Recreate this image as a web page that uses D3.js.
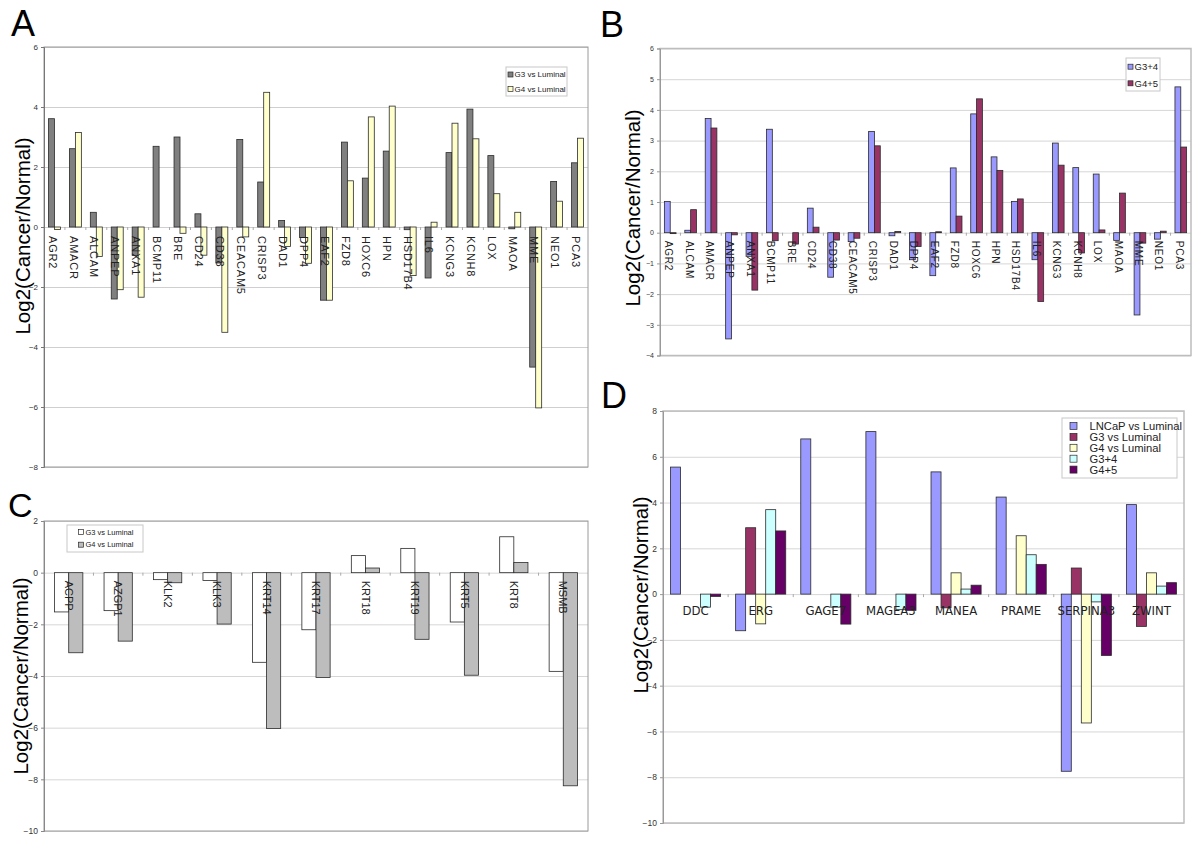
<!DOCTYPE html>
<html><head><meta charset="utf-8">
<script src="https://cdn.jsdelivr.net/npm/d3@7"></script>
<style>
body{margin:0;background:#fff}
svg{display:block}
text{font-family:"Liberation Sans",Arial,sans-serif}
.narrow{font-family:"Liberation Sans Narrow","DejaVu Sans Condensed","Liberation Sans",Arial,sans-serif}
</style>
</head><body>
<svg id="chart" width="1200" height="841"></svg>
<script>
// ---------- DATA ----------
const catsA = ["AGR2","AMACR","ALCAM","ANPEP","ANXA1","BCMP11","BRE","CD24","CD38","CEACAM5","CRISP3","DAD1","DPP4","EAF2","FZD8","HOXC6","HPN","HSD17B4","IL6","KCNG3","KCNH8","LOX","MAOA","MME","NEO1","PCA3"];
const aG3 = [3.61,2.61,0.49,-2.4,-0.95,2.69,3.0,0.44,-1.2,2.92,1.5,0.22,-0.35,-2.44,2.83,1.63,2.53,-0.09,-1.7,2.48,3.93,2.38,-0.06,-4.67,1.52,2.14];
const aG4 = [-0.08,3.15,-0.98,-2.09,-2.34,null,-0.21,-0.94,-3.51,-0.33,4.49,-0.65,-1.21,-2.44,1.54,3.67,4.03,-1.62,0.16,3.46,2.94,1.11,0.49,-6.03,0.86,2.96];
const legA = ["G3 vs Luminal","G4 vs Luminal"];
const ticksA = [6,4,2,0,-2,-4,-6,-8];

const catsB = ["AGR2","ALCAM","AMACR","ANPEP","ANXA1","BCMP11","BRE","CD24","CD38","CEACAM5","CRISP3","DAD1","DPP4","EAF2","FZD8","HOXC6","HPN","HSD17B4","IL6","KCNG3","KCNH8","LOX","MAOA","MME","NEO1","PCA3"];
const bG34 = [1.02,0.08,3.72,-3.46,-0.77,3.37,null,0.8,-1.45,-0.29,3.3,-0.1,-0.88,-1.4,2.11,3.87,2.47,1.02,-0.88,2.92,2.12,1.91,-0.25,-2.68,-0.21,4.75];
const bG45 = [-0.03,0.75,3.41,-0.07,-1.87,-0.26,-0.37,0.18,-0.24,-0.18,2.83,0.04,-0.45,0.03,0.54,4.36,2.03,1.1,-2.24,2.2,-0.66,0.09,1.29,-0.34,0.05,2.79];
const legB = ["G3+4","G4+5"];
const ticksB = [6,5,4,3,2,1,0,-1,-2,-3,-4];

const catsC = ["ACPP","AZGP1","KLK2","KLK3","KRT14","KRT17","KRT18","KRT19","KRT5","KRT8","MSMB"];
const cG3 = [-1.52,-1.47,-0.27,-0.3,-3.47,-2.21,0.66,0.94,-1.91,1.39,-3.82];
const cG4 = [-3.1,-2.65,-0.39,-1.99,-6.03,-4.06,0.18,-2.58,-3.97,0.39,-8.25];
const legC = ["G3 vs Luminal","G4 vs Luminal"];
const ticksC = [2,0,-2,-4,-6,-8,-10];

const catsD = ["DDC","ERG","GAGE7","MAGEA3","MANEA","PRAME","SERPINA3","ZWINT"];
const dLNCaP = [5.55,-1.6,6.78,7.1,5.34,4.24,-7.74,3.91];
const dG3 = [null,2.9,null,null,-0.6,null,1.14,-1.41];
const dG4 = [null,-1.3,null,null,0.93,2.55,-5.63,0.93];
const dG34 = [-0.57,3.69,-0.57,-0.68,0.22,1.72,-0.34,0.35];
const dG45 = [-0.1,2.76,-1.31,-0.71,0.39,1.3,-2.68,0.5];
const legD = ["LNCaP vs Luminal","G3 vs Luminal","G4 vs Luminal","G3+4","G4+5"];
const ticksD = [8,6,4,2,0,-2,-4,-6,-8,-10];

const yTitle = "Log2(Cancer/Normal)";

// ---------- DRAW ----------
const svg = d3.select("#chart");

function panel(o){
  const g = svg.append("g");
  const x0 = d3.scaleBand().domain(o.cats).range([o.l, o.r]);
  const y = d3.scaleLinear().domain([d3.min(o.ticks), d3.max(o.ticks)]).range([o.b, o.t]);
  const B = x0.bandwidth();
  const n = o.series.length;
  const bw = B / (n + 1.5);
  const x1 = d3.scaleBand().domain(d3.range(n)).range([0.75*bw, 0.75*bw + n*bw]);

  // grid
  g.append("g").attr("transform", `translate(${o.l},0)`)
    .call(d3.axisLeft(y).tickValues(o.ticks).tickSize(-(o.r - o.l)).tickFormat(""))
    .call(s => { s.select(".domain").remove(); s.selectAll("line").attr("stroke", o.grid).attr("stroke-width", 1); });

  // frame
  g.append("rect").attr("x", o.l).attr("y", o.t).attr("width", o.r - o.l).attr("height", o.b - o.t)
    .attr("fill", "none").attr("stroke", o.frame).attr("stroke-width", o.frameW);

  // y axis
  const ya = g.append("g").attr("transform", `translate(${o.l},0)`)
    .call(d3.axisLeft(y).tickValues(o.ticks).tickSize(3).tickPadding(3).tickFormat(d3.format("d")));
  ya.select(".domain").attr("stroke", o.axis);
  ya.selectAll("line").attr("stroke", o.axis);
  ya.selectAll("text").attr("font-size", o.tickFont).attr("fill", "#333").attr("font-family", "Liberation Sans, Arial, sans-serif");

  // category tick marks on zero line
  const y0 = y(0);
  g.append("g").selectAll("line").data(o.cats.slice(1)).join("line")
    .attr("x1", d => x0(d)).attr("x2", d => x0(d))
    .attr("y1", y0).attr("y2", y0 + 3).attr("stroke", "#aaa");

  // bars
  o.series.forEach((s, i) => {
    const data = s.values.map((v, j) => ({v, c: o.cats[j]})).filter(d => d.v !== null);
    g.append("g").selectAll("rect").data(data).join("rect")
      .attr("x", d => x0(d.c) + x1(i))
      .attr("width", x1.bandwidth())
      .attr("y", d => Math.min(y(d.v), y0))
      .attr("height", d => Math.abs(y(d.v) - y0))
      .attr("fill", s.color).attr("stroke", "#2a2a2a").attr("stroke-width", 0.8);
  });

  // category labels
  const lab = g.append("g");
  if (o.labRot) {
    lab.selectAll("text").data(o.cats).join("text")
      .attr("transform", d => `translate(${x0(d) + B/2 + o.labDx},${y0 + o.labDy}) rotate(90)`)
      .attr("dy", "0.35em").attr("text-anchor", "start")
      .attr("font-size", o.labFont).attr("letter-spacing", o.labSpacing).attr("fill", "#222")
      .text(d => d);
  } else {
    lab.selectAll("text").data(o.cats).join("text")
      .attr("class", "narrow")
      .attr("x", d => x0(d) + B/2).attr("y", y0 + o.labDy)
      .attr("text-anchor", "middle").attr("font-size", o.labFont).attr("fill", "#222")
      .text(d => d);
  }

  // y title
  g.append("text").attr("transform", `translate(${o.titleX},${o.titleY}) rotate(-90)`)
    .attr("text-anchor", "middle").attr("dy", "0.35em").attr("font-size", 20.5).attr("fill", "#000")
    .text(yTitle);

  // panel letter
  g.append("text").attr("x", o.letterX).attr("y", o.letterY).attr("font-size", o.letterSize || 36).attr("fill", "#000").text(o.letter);

  // legend
  const L = o.legend;
  g.append("rect").attr("x", L.x).attr("y", L.y).attr("width", L.w).attr("height", L.h)
    .attr("fill", "#fff").attr("stroke", "#c8c8c8");
  const le = g.append("g").selectAll("g").data(o.series).join("g")
    .attr("transform", (d, i) => `translate(${L.x + L.sqx},${L.y0 + i * L.dy})`);
  le.append("rect").attr("x", 0).attr("y", -L.sq/2).attr("width", L.sq).attr("height", L.sq)
    .attr("fill", d => d.color).attr("stroke", "#2a2a2a").attr("stroke-width", 0.7);
  le.append("text").attr("x", L.tx).attr("dy", "0.35em").attr("font-size", L.font).attr("fill", "#222")
    .text(d => d.name);
}

panel({
  cats: catsA, ticks: ticksA, l: 44, r: 588, t: 47, b: 467,
  series: [{name: legA[0], values: aG3, color: "#808080"}, {name: legA[1], values: aG4, color: "#ffffcc"}],
  grid: "#cfcfcf", frame: "#9a9a9a", frameW: 1, axis: "#777", tickFont: 8,
  labRot: true, labDx: -2, labDy: 9, labFont: 11, labSpacing: 0.8,
  titleX: 23, titleY: 236, letter: "A", letterX: 11, letterY: 36,
  legend: {x: 506, y: 67, w: 61, h: 29, sqx: 2, sq: 5, y0: 74.5, dy: 14.5, tx: 6.5, font: 8}
});

panel({
  cats: catsB, ticks: ticksB, l: 660, r: 1191, t: 48.5, b: 355.5,
  series: [{name: legB[0], values: bG34, color: "#9999ff"}, {name: legB[1], values: bG45, color: "#993366"}],
  grid: "#d6d6d6", frame: "#bdbdbd", frameW: 1.5, axis: "#999", tickFont: 7,
  labRot: true, labDx: -1.5, labDy: 8, labFont: 10, labSpacing: 0.8,
  titleX: 633, titleY: 208, letter: "B", letterX: 600, letterY: 37,
  legend: {x: 1126, y: 58, w: 34, h: 33, sqx: 2, sq: 5, y0: 66.7, dy: 16.6, tx: 6.5, font: 9.5}
});

panel({
  cats: catsC, ticks: ticksC, l: 44, r: 588, t: 521, b: 831,
  series: [{name: legC[0], values: cG3, color: "#ffffff"}, {name: legC[1], values: cG4, color: "#bdbdbd"}],
  grid: "#d6d6d6", frame: "#9a9a9a", frameW: 1, axis: "#888", tickFont: 8.5,
  labRot: true, labDx: 0, labDy: 8, labFont: 11, labSpacing: 0,
  titleX: 21, titleY: 676, letter: "C", letterX: 8, letterY: 517, letterSize: 34,
  legend: {x: 67, y: 525, w: 76, h: 27, sqx: 11.5, sq: 5, y0: 532, dy: 12.7, tx: 7, font: 7.5}
});

panel({
  cats: catsD, ticks: ticksD, l: 663, r: 1184, t: 411, b: 823,
  series: [{name: legD[0], values: dLNCaP, color: "#9999ff"}, {name: legD[1], values: dG3, color: "#993366"},
           {name: legD[2], values: dG4, color: "#ffffcc"}, {name: legD[3], values: dG34, color: "#ccffff"},
           {name: legD[4], values: dG45, color: "#660066"}],
  grid: "#d6d6d6", frame: "#bdbdbd", frameW: 1.5, axis: "#999", tickFont: 8.5,
  labRot: false, labDy: 21, labFont: 13,
  titleX: 641, titleY: 595, letter: "D", letterX: 601, letterY: 408,
  legend: {x: 1062, y: 418, w: 115, h: 60, sqx: 8, sq: 7, y0: 426, dy: 10.9, tx: 19.5, font: 11.2}
});
</script>
</body></html>
